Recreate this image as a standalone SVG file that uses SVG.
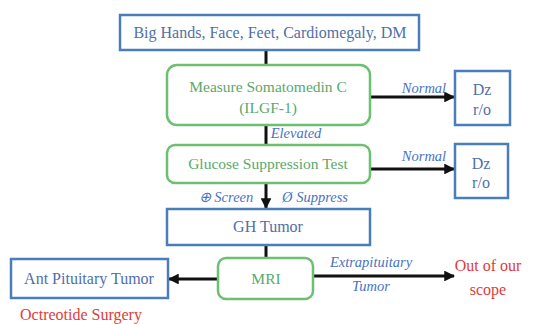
<svg xmlns="http://www.w3.org/2000/svg" width="554" height="324" viewBox="0 0 554 324">
<defs>
<marker id="ah" viewBox="0 0 10 10" refX="9" refY="5" markerWidth="3.6" markerHeight="3.6" orient="auto" markerUnits="strokeWidth">
<path d="M0,0 L10,5 L0,10 z" fill="#111"/>
</marker>
<style>
.bb{fill:#fff;stroke:#4a7ebb;stroke-width:2.5}
.gb{fill:#fff;stroke:#6cc070;stroke-width:2.5}
.bt{font-family:"Liberation Serif",serif;font-size:16px;fill:#4f6fa8;text-anchor:middle}
.gt{font-family:"Liberation Serif",serif;font-size:15.5px;fill:#5aa86a;text-anchor:middle}
.rt{font-family:"Liberation Serif",serif;font-size:16px;fill:#e03c3c;text-anchor:middle}
.lt{font-family:"Liberation Serif",serif;font-size:14.5px;font-style:italic;fill:#4a72c4;text-anchor:middle}
.c{stroke:#111;stroke-width:3;fill:none}
.ca{stroke:#111;stroke-width:3;fill:none;marker-end:url(#ah)}
</style>
</defs>
<rect width="554" height="324" fill="#fff"/>
<g id="connectors">
<line class="c" x1="266" y1="50" x2="266" y2="65"/>
<line class="ca" x1="370" y1="97" x2="454" y2="97"/>
<line class="c" x1="266" y1="125" x2="266" y2="145"/>
<line class="ca" x1="370" y1="169" x2="454" y2="169"/>
<line class="ca" x1="266" y1="183" x2="266" y2="208"/>
<line class="c" x1="266" y1="245" x2="266" y2="258"/>
<line class="ca" x1="218" y1="279" x2="169" y2="279"/>
<line class="ca" x1="313" y1="276" x2="454" y2="276"/>
<text class="lt" x="424" y="93">Normal</text>
<text class="lt" x="296" y="138">Elevated</text>
<text class="lt" x="424" y="161">Normal</text>
<text class="lt" x="226" y="202">⊕ Screen</text>
<text class="lt" x="315" y="202">Ø Suppress</text>
<text class="lt" x="371" y="267">Extrapituitary</text>
<text class="lt" x="371" y="291">Tumor</text>
</g>
<g id="symptoms">
<rect class="bb" x="120" y="15" width="299" height="35"/>
<text class="bt" x="270" y="38">Big Hands, Face, Feet, Cardiomegaly, DM</text>
</g>
<g id="somatomedin">
<rect class="gb" x="167" y="65" width="203" height="60" rx="10"/>
<text class="gt" x="268" y="92">Measure Somatomedin C</text>
<text class="gt" x="268" y="113">(ILGF-1)</text>
</g>
<g id="dz1">
<rect class="bb" x="455" y="71" width="55" height="54"/>
<text class="bt" x="482" y="95">Dz</text>
<text class="bt" x="482" y="115">r/o</text>
</g>
<g id="glucose">
<rect class="gb" x="167" y="145" width="203" height="38" rx="8"/>
<text class="gt" x="268" y="169">Glucose Suppression Test</text>
</g>
<g id="dz2">
<rect class="bb" x="455" y="144" width="53" height="54"/>
<text class="bt" x="481" y="169">Dz</text>
<text class="bt" x="481" y="188">r/o</text>
</g>
<g id="gh">
<rect class="bb" x="167" y="209" width="203" height="36"/>
<text class="bt" x="268" y="232">GH Tumor</text>
</g>
<g id="mri">
<rect class="gb" x="218" y="258" width="95" height="41" rx="8"/>
<text class="gt" x="266" y="284">MRI</text>
</g>
<g id="antpit">
<rect class="bb" x="11" y="259" width="157" height="39"/>
<text class="bt" x="89" y="284">Ant Pituitary Tumor</text>
</g>
<g id="outscope">
<text class="rt" x="488" y="271">Out of our</text>
<text class="rt" x="488" y="295">scope</text>
</g>
<g id="octreotide">
<text class="rt" x="81" y="320">Octreotide Surgery</text>
</g>
</svg>
